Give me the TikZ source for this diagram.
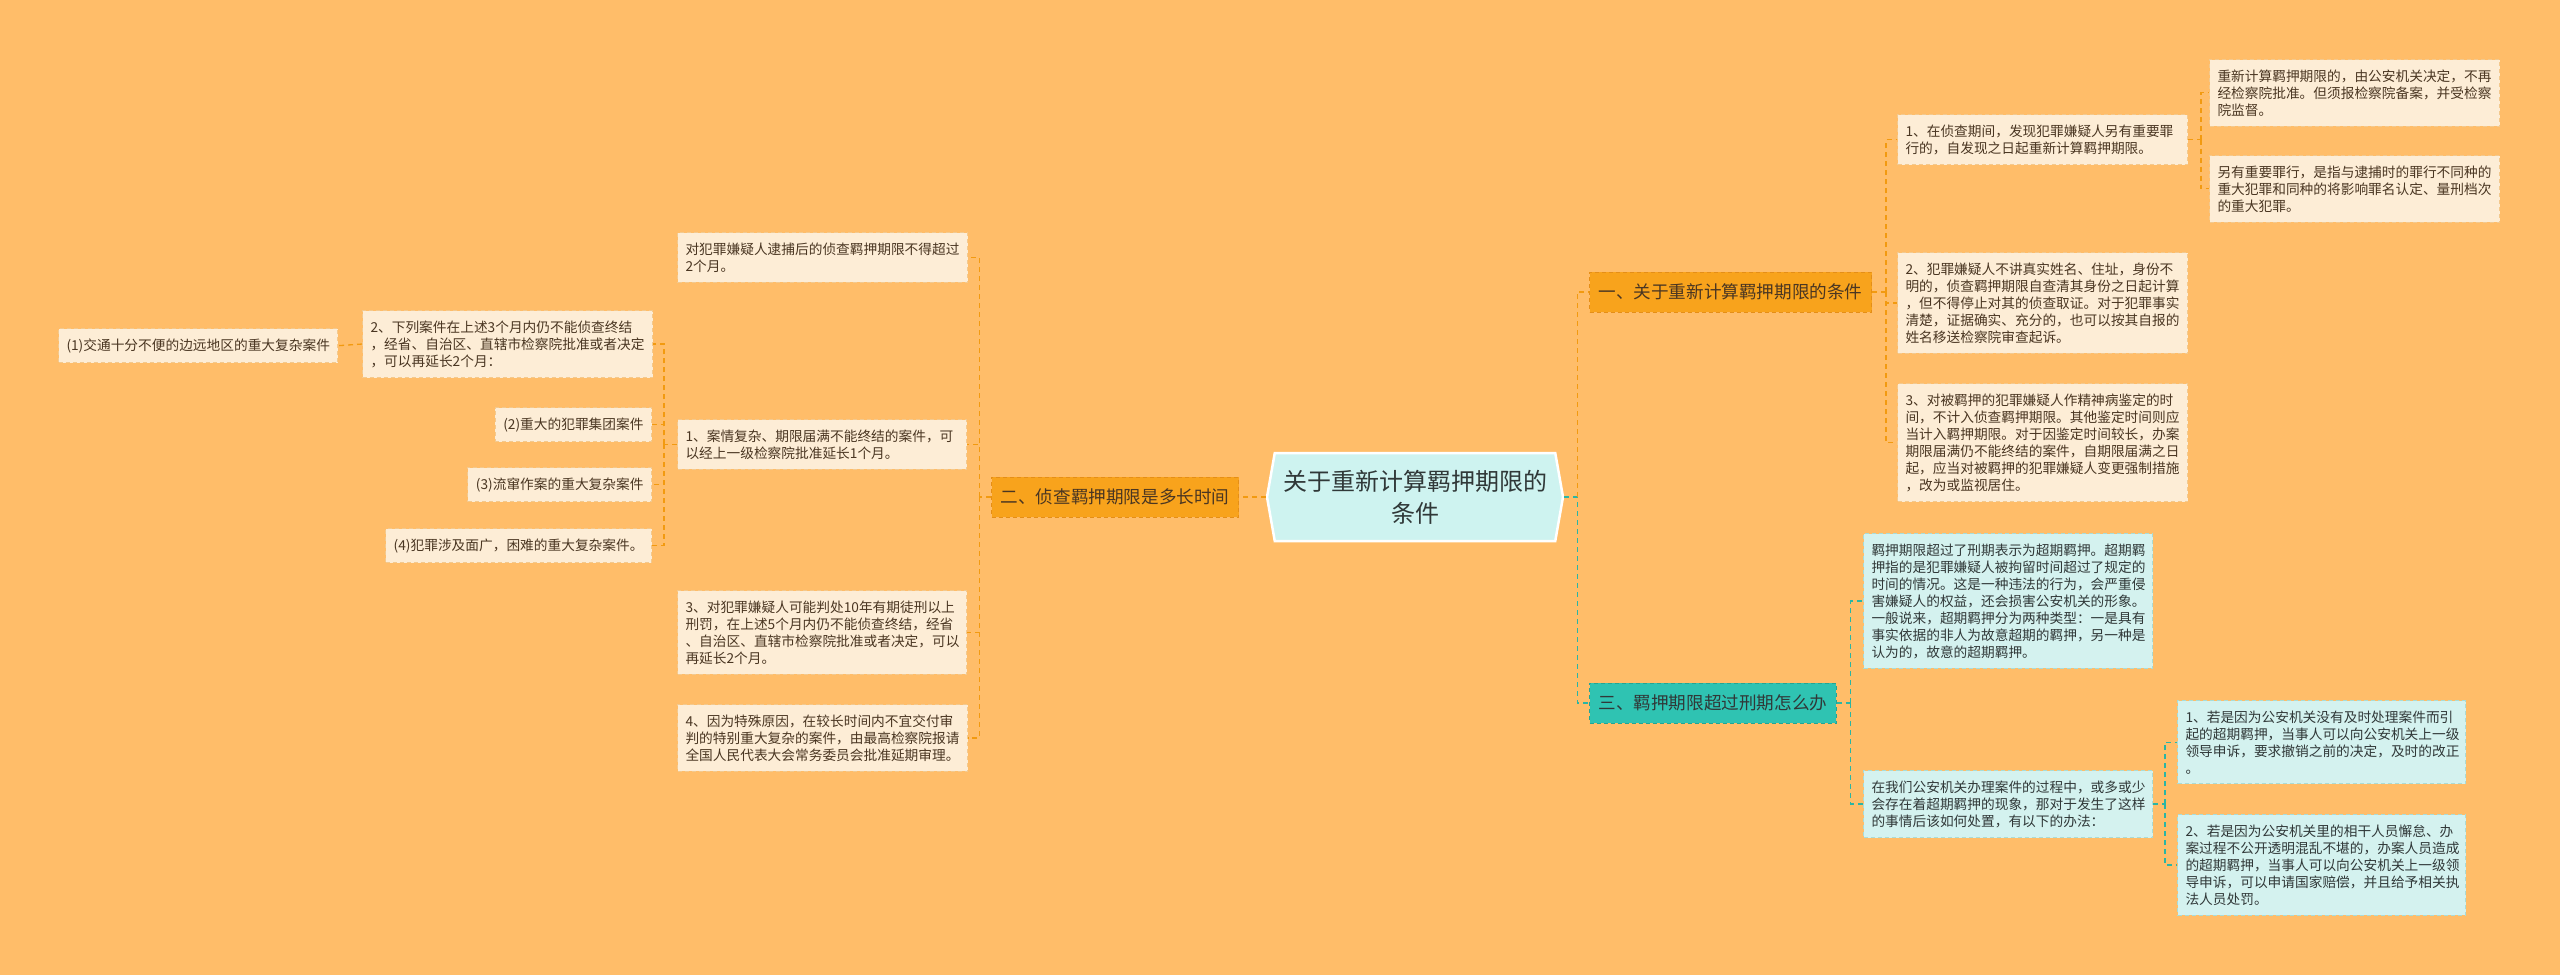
\documentclass[tikz,border=0pt]{standalone}
\usepackage{fontspec}
\setmainfont{Noto Sans CJK SC}
\usetikzlibrary{shapes.symbols}
\definecolor{bgc}{HTML}{FFBD69}
\definecolor{orline}{HTML}{F29A10}
\definecolor{tealline}{HTML}{2BB5A4}
\definecolor{orfill}{HTML}{F8A31C}
\definecolor{orbord}{HTML}{E58E16}
\definecolor{tlfill}{HTML}{2FC3B2}
\definecolor{tlbord}{HTML}{21A595}
\definecolor{creamfill}{HTML}{FDEDD6}
\definecolor{creambord}{HTML}{F3C98E}
\definecolor{cyanfill}{HTML}{D4F2EF}
\definecolor{cyanbord}{HTML}{A9DCD6}
\definecolor{rootfill}{HTML}{CEF3F0}
\definecolor{browntext}{HTML}{4A3622}
\definecolor{graytext}{HTML}{303838}
\begin{document}
\begin{tikzpicture}[x=1pt,y=-1pt,
	lnk/.style={orline,line width=1.3pt,dash pattern=on 5pt off 4pt},
	tlnk/.style={lnk,tealline},
	leaf/.style={draw=creambord,fill=creamfill,text=browntext,dash pattern=on 4pt off 3pt,line width=1pt,anchor=north west,align=left,inner xsep=8pt,inner ysep=10pt,font=\fontsize{13.7}{17}\selectfont},
	cleaf/.style={leaf,draw=cyanbord,fill=cyanfill,text=graytext},
	branch/.style={draw=orbord,fill=orfill,text=browntext,dash pattern=on 4pt off 3pt,line width=1pt,anchor=west,minimum height=40pt,inner xsep=9pt,font=\fontsize{17.6}{20}\selectfont},
	tbranch/.style={branch,draw=tlbord,fill=tlfill,text=graytext}]
		\useasboundingbox (0,0) rectangle (2560,975);
		\fill[bgc] (0,0) rectangle (2560,975);
		\node[signal,signal to=west and east,signal pointer angle=160,minimum width=296pt,minimum height=88pt,fill=rootfill,draw=white,line width=2.5pt,align=center,text=graytext,font=\fontsize{24}{32}\selectfont] (root) at (1415,497) {关于重新计算羁押期限的\\条件};
		\node[branch] (b1) at (1589,292) {一、关于重新计算羁押期限的条件};
		\node[branch,anchor=east] (b2) at (1239,497) {二、侦查羁押期限是多长时间};
		\node[tbranch] (b3) at (1589,703) {三、羁押期限超过刑期怎么办};
		\node[leaf,text width=274pt] (r1) at (1897,114) {1、在侦查期间，发现犯罪嫌疑人另有重要罪\\行的，自发现之日起重新计算羁押期限。};
		\node[leaf,text width=274pt] (r1a) at (2209,59) {重新计算羁押期限的，由公安机关决定，不再\\经检察院批准。但须报检察院备案，并受检察\\院监督。};
		\node[leaf,text width=274pt] (r1b) at (2209,155) {另有重要罪行，是指与逮捕时的罪行不同种的\\重大犯罪和同种的将影响罪名认定、量刑档次\\的重大犯罪。};
		\node[leaf,text width=274pt] (r2) at (1897,252) {2、犯罪嫌疑人不讲真实姓名、住址，身份不\\明的，侦查羁押期限自查清其身份之日起计算\\，但不得停止对其的侦查取证。对于犯罪事实\\清楚，证据确实、充分的，也可以按其自报的\\姓名移送检察院审查起诉。};
		\node[leaf,text width=274pt] (r3) at (1897,383) {3、对被羁押的犯罪嫌疑人作精神病鉴定的时\\间，不计入侦查羁押期限。其他鉴定时间则应\\当计入羁押期限。对于因鉴定时间较长，办案\\期限届满仍不能终结的案件，自期限届满之日\\起，应当对被羁押的犯罪嫌疑人变更强制措施\\，改为或监视居住。};
		\node[cleaf,text width=273pt] (t1) at (1863,533) {羁押期限超过了刑期表示为超期羁押。超期羁\\押指的是犯罪嫌疑人被拘留时间超过了规定的\\时间的情况。这是一种违法的行为，会严重侵\\害嫌疑人的权益，还会损害公安机关的形象。\\一般说来，超期羁押分为两种类型：一是具有\\事实依据的非人为故意超期的羁押，另一种是\\认为的，故意的超期羁押。};
		\node[cleaf,text width=273pt] (t2) at (1863,770) {在我们公安机关办理案件的过程中，或多或少\\会存在着超期羁押的现象，那对于发生了这样\\的事情后该如何处置，有以下的办法：};
		\node[cleaf,text width=272pt] (t2a) at (2177,700) {1、若是因为公安机关没有及时处理案件而引\\起的超期羁押，当事人可以向公安机关上一级\\领导申诉，要求撤销之前的决定，及时的改正\\。};
		\node[cleaf,text width=272pt] (t2b) at (2177,814) {2、若是因为公安机关里的相干人员懈怠、办\\案过程不公开透明混乱不堪的，办案人员造成\\的超期羁押，当事人可以向公安机关上一级领\\导申诉，可以申请国家赔偿，并且给予相关执\\法人员处罚。};
		\node[leaf,text width=274pt] (l1) at (677,232) {对犯罪嫌疑人逮捕后的侦查羁押期限不得超过\\2个月。};
		\node[leaf,text width=274pt] (l2) at (362,310) {2、下列案件在上述3个月内仍不能侦查终结\\，经省、自治区、直辖市检察院批准或者决定\\，可以再延长2个月：};
		\node[leaf,text width=273pt] (l3) at (677,419) {1、案情复杂、期限届满不能终结的案件，可\\以经上一级检察院批准延长1个月。};
		\node[leaf,text width=273pt] (l4) at (677,590) {3、对犯罪嫌疑人可能判处10年有期徒刑以上\\刑罚，在上述5个月内仍不能侦查终结，经省\\、自治区、直辖市检察院批准或者决定，可以\\再延长2个月。};
		\node[leaf,text width=274pt] (l5) at (677,704) {4、因为特殊原因，在较长时间内不宜交付审\\判的特别重大复杂的案件，由最高检察院报请\\全国人民代表大会常务委员会批准延期审理。};
		\node[leaf] (k1) at (58,328) {(1)交通十分不便的边远地区的重大复杂案件};
		\node[leaf,anchor=north east] (k2) at (652,407) {(2)重大的犯罪集团案件};
		\node[leaf,anchor=north east] (k3) at (652,467) {(3)流窜作案的重大复杂案件};
		\node[leaf,anchor=north east] (k4) at (652,528) {(4)犯罪涉及面广，困难的重大复杂案件。};
		% root
		\coordinate (jr) at ([xshift=13pt]root.east);
		\draw[tlnk] (root.east) -- (jr) |- (b3.west);
		\draw[lnk] (jr) |- (b1.west);
		\draw[lnk] (root.west) -- (b2.east);
		% branch 1
		\coordinate (j1) at ([xshift=14pt]b1.east);
		\draw[lnk] (b1.east) -- (j1);
		\draw[lnk] (j1) |- (r1.west);
		\draw[lnk] (j1) |- (r2.west);
		\draw[lnk] (j1) |- (r3.west);
		\coordinate (j11) at ([xshift=13pt]r1.east);
		\draw[lnk] (r1.east) -- (j11);
		\draw[lnk] (j11) |- (r1a.west);
		\draw[lnk] (j11) |- (r1b.west);
		% branch 3
		\coordinate (j3) at ([xshift=14pt]b3.east);
		\draw[tlnk] (b3.east) -- (j3);
		\draw[tlnk] (j3) |- (t1.west);
		\draw[tlnk] (j3) |- (t2.west);
		\coordinate (j32) at ([xshift=12pt]t2.east);
		\draw[tlnk] (t2.east) -- (j32);
		\draw[tlnk] (j32) |- (t2a.west);
		\draw[tlnk] (j32) |- (t2b.west);
		% branch 2
		\coordinate (j2) at ([xshift=-12pt]b2.west);
		\draw[lnk] (b2.west) -- (j2);
		\draw[lnk] (j2) |- (l1.east);
		\draw[lnk] (j2) |- (l3.east);
		\draw[lnk] (j2) |- (l4.east);
		\draw[lnk] (j2) |- (l5.east);
		\coordinate (j23) at ([xshift=-13pt]l3.west);
		\draw[lnk] (l3.west) -- (j23);
		\draw[lnk] (j23) |- (l2.east);
		\draw[lnk] (j23) |- (k2.east);
		\draw[lnk] (j23) |- (k3.east);
		\draw[lnk] (j23) |- (k4.east);
		\draw[lnk] (l2.west) -- (k1.east);
\end{tikzpicture}
\end{document}
